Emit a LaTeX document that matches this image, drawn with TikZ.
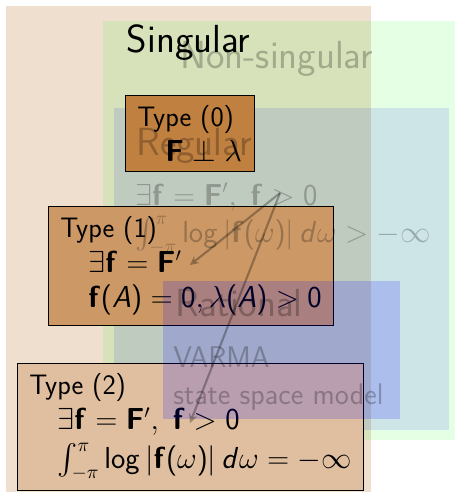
\documentclass[tikz,border=0pt]{standalone}
\usepackage{exscale}
\renewcommand{\familydefault}{\sfdefault}
% sans serif math letters and digits, greek stays italic
\DeclareSymbolFont{sfletters}{OT1}{cmss}{m}{it}
\SetSymbolFont{operators}{normal}{OT1}{cmss}{m}{n}
\DeclareMathAlphabet{\mathbf}{OT1}{cmss}{bx}{n}
\DeclareMathSymbol{A}{\mathalpha}{sfletters}{`A}
\DeclareMathSymbol{d}{\mathalpha}{sfletters}{`d}
\usetikzlibrary{arrows}

\tikzset{
  region/.style={anchor=base west,inner sep=0pt,font=\fontsize{22.3}{26}\selectfont},
  ghost/.style={text opacity=0.25},
  cond/.style={anchor=base west,inner sep=0pt},
  typebox/.style={draw,anchor=north west,align=left,inner xsep=0.24cm,inner ysep=0.2cm},
}
\newcommand{\typeindent}{\hspace*{1em}}

\begin{document}
\begin{tikzpicture}[font=\fontsize{16}{20}\selectfont,>=stealth,x=1cm,y=1cm]
    \useasboundingbox (0,0) rectangle (9.10,9.86);

    % regions
    \fill[brown,opacity=0.25] (0.12,0.02) rectangle (7.42,9.74);
    \fill[green,opacity=0.1] (2.06,1.06) rectangle (9.10,9.44);
    \fill[blue,opacity=0.1] (2.28,1.26) rectangle (8.98,7.70);

    \node[region] (sing) at (2.53,8.81) {Singular};
    \node[region,ghost] (nonsing) at (3.60,8.49) {Non-singular};

    % the three types
    \node[typebox,fill=brown] (type0) at (2.50,7.96)
        {Type (0)\\ \typeindent$\mathbf{F}\perp\lambda$};
    \node[typebox,fill=brown!80] (type1) at (0.96,5.74)
        {Type (1)\\
         \typeindent$\exists\mathbf{f}=\mathbf{F}'$\\
         \typeindent$\mathbf{f}(A)=0,\lambda(A)>0$};
    \node[typebox,fill=brown!50] (type2) at (0.34,2.60)
        {Type (2)\\
         \typeindent$\exists\mathbf{f}=\mathbf{F}',\ \mathbf{f}>0$\\[2pt]
         \typeindent$\int_{-\pi}^{\pi}\log\left|\mathbf{f}(\omega)\right|d\omega=-\infty$};

    \fill[blue,opacity=0.17] (3.26,1.48) rectangle (8.00,4.24);

    \node[region,ghost] (reg) at (2.72,6.76) {Regular};
    \node[cond,ghost] (regA) at (2.70,5.76)
        {$\exists\mathbf{f}=\mathbf{F}',\ \mathbf{f}>0$};
    \node[cond,ghost] (regB) at (2.70,5.02)
        {$\int_{-\pi}^{\pi}\log|\mathbf{f}(\omega)|\,d\omega>-\infty$};
    \node[region,ghost] (rat) at (3.50,3.52) {Rational};
    \node[cond,ghost,font=\fontsize{17}{20}\selectfont] (ratA) at (3.46,2.52) {VARMA};
    \node[cond,ghost,font=\fontsize{17}{20}\selectfont] (ratB) at (3.46,1.78) {state space model};

    % implications
    \coordinate (src) at (5.60,6.00);
    \coordinate (tipA) at (3.80,4.56);
    \coordinate (tipB) at (3.80,1.40);
    \draw[->,very thick,opacity=0.3] (src) -- (tipA);
    \draw[->,very thick,opacity=0.3] (src) -- (tipB);
\end{tikzpicture}
\end{document}
